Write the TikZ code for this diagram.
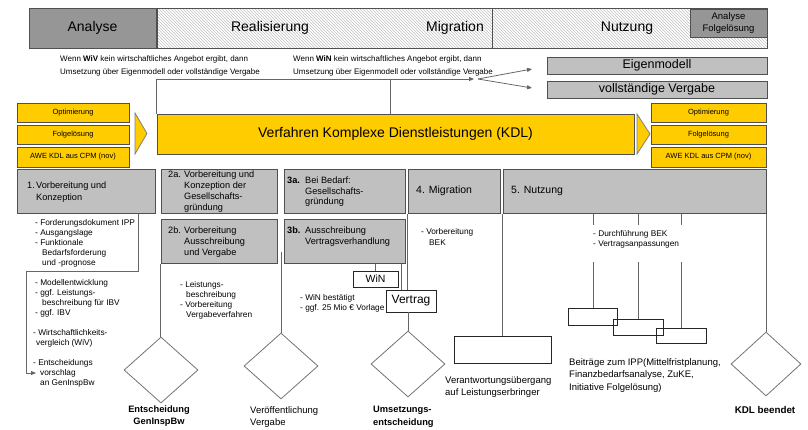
\documentclass[tikz,border=0pt]{standalone}
\usepackage{fontspec}
\setmainfont{Liberation Sans}
\usetikzlibrary{shapes.geometric,arrows.meta,patterns,calc}
\definecolor{kyel}{HTML}{FFCC00}
\definecolor{kgray}{HTML}{C0C0C0}
\definecolor{kdark}{HTML}{969696}
\definecolor{kline}{HTML}{505050}
\newcommand\myfs[2]{\fontsize{#1}{#2}\selectfont}
\begin{document}
\begin{tikzpicture}[x=1pt,y=-1pt,
  hdrbox/.style={draw=kline,line width=1pt,inner sep=0pt},
  ybox/.style={draw=kline,fill=kyel,line width=1pt,inner sep=0pt,font=\myfs{7.5}{9}},
  gbox/.style={draw=kline,fill=kgray,line width=1pt,inner sep=0pt},
  txt/.style={inner sep=0pt,anchor=north west,align=left},
  conn/.style={draw=black!60,line width=0.8pt},
  tip/.style={-{Triangle[length=5pt,width=4pt]}},
  dia/.style={diamond,draw=black!55,line width=0.8pt,inner sep=0pt,minimum width=74pt,minimum height=66pt},
  wbox/.style={draw=black!85,line width=0.8pt,inner sep=0pt},
  bfs/.style={font=\myfs{9.2}{11}},
  sfs/.style={font=\myfs{8.3}{10}},
  lfs/.style={font=\myfs{9.5}{12.5}},
]
\useasboundingbox (0,0) rectangle (808,429);

% header
\node[hdrbox,fill=kdark,minimum width=127pt,minimum height=40pt,font=\myfs{14}{16}] (ana) at (92.5,28) {Analyse};
\node[hdrbox,pattern=north west lines,pattern color=black!25,minimum width=335pt,minimum height=40pt] (real) at (324.5,28) {};
\node[hdrbox,pattern=north west lines,pattern color=black!25,minimum width=275pt,minimum height=40pt] (nutz) at (629.5,28) {};
\node[font=\myfs{14}{16},inner sep=0pt] (treal) at (270,28) {Realisierung};
\node[font=\myfs{14}{16},inner sep=0pt] (tmig) at (455,28) {Migration};
\node[font=\myfs{14}{16},inner sep=0pt] (tnut) at (627,28) {Nutzung};
\node[hdrbox,fill=kdark,minimum width=77pt,minimum height=28pt,align=center,font=\myfs{9.5}{12.5}] (anaf) at (728.5,23) {Analyse\\Folgelösung};

% Wenn texts
\node[txt,font=\myfs{8}{12.5}] (w1) at (60,55.5) {Wenn \textbf{WiV} kein wirtschaftliches Angebot ergibt, dann\\Umsetzung über Eigenmodell oder vollständige Vergabe};
\node[txt,font=\myfs{8}{12.5}] (w2) at (293,55.5) {Wenn \textbf{WiN} kein wirtschaftliches Angebot ergibt, dann\\Umsetzung über Eigenmodell oder vollständige Vergabe};

% Eigenmodell / Vergabe
\node[gbox,minimum width=220pt,minimum height=17pt,font=\myfs{12.5}{14}] (eig) at (657,65.5) {Eigenmodell};
\node[gbox,minimum width=220pt,minimum height=17pt,font=\myfs{12.5}{14}] (vol) at (657,89.5) {vollständige Vergabe};

% yellow boxes
\node[ybox,minimum width=112pt,minimum height=19pt] (lopt) at (73,112.5) {Optimierung};
\node[ybox,minimum width=112pt,minimum height=19pt] (lfol) at (73,134.5) {Folgelösung};
\node[ybox,minimum width=112pt,minimum height=20pt] (lawe) at (73,157) {AWE KDL aus CPM (nov)};
\node[ybox,minimum width=115pt,minimum height=19pt] (ropt) at (708.5,112.5) {Optimierung};
\node[ybox,minimum width=115pt,minimum height=19pt] (rfol) at (708.5,134.5) {Folgelösung};
\node[ybox,minimum width=115pt,minimum height=20pt] (rawe) at (708.5,157) {AWE KDL aus CPM (nov)};

\draw[draw=black!50,fill=kyel,line width=0.8pt] (135,113) -- (147,133.5) -- (135,154) -- cycle;
\draw[draw=black!50,fill=kyel,line width=0.8pt] (637,114) -- (650,134) -- (637,154) -- cycle;

\node[draw=kline,fill=kyel,line width=1pt,minimum width=477pt,minimum height=40pt,font=\myfs{14}{16}] (kdl) at (395.5,134) {Verfahren Komplexe Dienstleistungen (KDL)};

% gray boxes
\node[gbox,minimum width=138pt,minimum height=44pt] (b1) at (86,191) {};
\node[gbox,minimum width=116pt,minimum height=44pt] (b2a) at (219,191) {};
\node[gbox,minimum width=121pt,minimum height=44pt] (b3a) at (344.5,191) {};
\node[gbox,minimum width=92pt,minimum height=44pt] (b4) at (454,191) {};
\node[gbox,minimum width=263pt,minimum height=44pt] (b5) at (634.5,191) {};
\node[gbox,minimum width=116pt,minimum height=44pt] (b2b) at (219,241) {};
\node[gbox,minimum width=121pt,minimum height=44pt] (b3b) at (344.5,241) {};

\node[txt,font=\myfs{9.2}{11.5}] (tb1) at (27,182) {\makebox[9pt][l]{1.}Vorbereitung und\\\hspace*{9pt}Konzeption};
\node[txt,bfs] (tb2a) at (168,171) {\makebox[16pt][l]{2a.}Vorbereitung und\\\hspace*{16pt}Konzeption der\\\hspace*{16pt}Gesellschafts-\\\hspace*{16pt}gründung};
\node[txt,font=\myfs{9.2}{10.5}] (tb3a) at (287,177) {\makebox[18pt][l]{\textbf{3a.}}Bei Bedarf:\\\hspace*{18pt}Gesellschafts-\\\hspace*{18pt}gründung};
\node[anchor=west,inner sep=0pt,font=\myfs{10.5}{12}] (tb4) at (416,191) {4. Migration};
\node[anchor=west,inner sep=0pt,font=\myfs{10.5}{12}] (tb5) at (511,191) {5. Nutzung};
\node[txt,bfs] (tb2b) at (168,227) {\makebox[16pt][l]{2b.}Vorbereitung\\\hspace*{16pt}Ausschreibung\\\hspace*{16pt}und Vergabe};
\node[txt,bfs] (tb3b) at (287,227) {\makebox[18pt][l]{\textbf{3b.}}Ausschreibung\\\hspace*{18pt}Vertragsverhandlung};

% small texts
\node[txt,sfs] (t1) at (35,219.4) {- Forderungsdokument IPP\\- Ausgangslage\\- Funktionale\\\hspace*{7pt}Bedarfsforderung\\\hspace*{7pt}und -prognose};
\node[txt,sfs] (t2a) at (35,279.4) {- Modellentwicklung\\- ggf. Leistungs-\\\hspace*{7pt}beschreibung für IBV\\- ggf. IBV};
\node[txt,sfs] (t2b) at (33,329.4) {- Wirtschaftlichkeits-\\\hspace*{3pt}vergleich (WiV)};
\node[txt,sfs] (t2c) at (33,359.4) {- Entscheidungs\\\hspace*{7pt}vorschlag\\\hspace*{7pt}an GenInspBw};
\node[txt,sfs] (tleis) at (180,281.4) {- Leistungs-\\\hspace*{6pt}beschreibung\\- Vorbereitung\\\hspace*{6pt}Vergabeverfahren};
\node[txt,sfs] (twin) at (300,294.4) {- WiN bestätigt\\- ggf. 25 Mio € Vorlage};
\node[txt,font=\myfs{8.3}{11}] (tvorb) at (421,228.4) {- Vorbereitung\\\hspace*{8pt}BEK};
\node[txt,font=\myfs{8.3}{9.5}] (tdurch) at (593,230.4) {- Durchführung BEK\\- Vertragsanpassungen};

% small white boxes
\node[wbox,minimum width=45pt,minimum height=16pt,font=\myfs{10.5}{12}] (win) at (375.5,279) {WiN};
\node[wbox,minimum width=50pt,minimum height=22pt,font=\myfs{12}{14}] (vtr) at (411,301) {Vertrag};
\node[wbox,minimum width=97pt,minimum height=27pt] (vb) at (503,349.5) {};
\node[wbox,minimum width=49pt,minimum height=17pt] (sA) at (593,317) {};
\node[wbox,minimum width=50pt,minimum height=16pt] (sB) at (638,327) {};
\node[wbox,minimum width=50pt,minimum height=15pt] (sC) at (681,335.5) {};

% diamonds
\node[dia] (d1) at (161,370) {};
\node[dia] (d2) at (281,366) {};
\node[dia] (d3) at (408,364) {};
\node[dia,minimum width=70pt,minimum height=64pt] (d4) at (766,364) {};

% labels
\node[inner sep=0pt,anchor=north,align=center,font=\bfseries\myfs{9.3}{12}] (l1) at (159,406) {Entscheidung\\GenInspBw};
\node[txt,lfs] (l2) at (250,406) {Veröffentlichung\\Vergabe};
\node[txt,font=\bfseries\myfs{9.3}{12.5}] (l3) at (373,406) {Umsetzungs-\\entscheidung};
\node[txt,lfs] (l4) at (445,376) {Verantwortungsübergang\\auf Leistungserbringer};
\node[txt,lfs] (l5) at (569,358) {Beiträge zum IPP(Mittelfristplanung,\\Finanzbedarfsanalyse, ZuKE,\\Initiative Folgelösung)};
\node[inner sep=0pt,anchor=north,font=\bfseries\myfs{9.8}{12}] (l6) at (765,406) {KDL beendet};

% connectors top
\coordinate (fk) at (474,79);
\coordinate (fk2) at (478,79);
\coordinate (m1) at (390,79);
\coordinate (e1) at (532,69);
\coordinate (e2) at (532,88);
\draw[conn,tip] (kdl.north west) |- (fk);
\draw[conn] (m1) -- (m1 |- kdl.north);
\draw[conn,tip] (fk2) -- (e1);
\draw[conn,tip] (fk2) -- (e2);

% connectors lower
\coordinate (c1) at (138,271);
\coordinate (c2) at (26,271);
\coordinate (c3) at (36,373);
\draw[conn,tip] (b1.south -| c1) -- (c1) -- (c2) |- (c3);
\draw[conn] (b2b.south west) -- (b2b.south west |- d1.north);
\coordinate (c4) at (281,252);
\draw[conn] (c4) -- (d2.north);
\draw[conn] (win.north |- b3b.south) -- (win.north);
\coordinate (c5) at (401,290);
\draw[conn] (c5 |- b3b.south) -- (c5);
\draw[conn] (b4.south west) -- (b4.south west |- vtr.north);
\draw[conn] (vtr.south -| d3.north) -- (d3.north);
\draw[conn] (b5.south west) -- (b5.south west |- vb.north);
\draw[conn] (b5.south east) -- (b5.south east |- d4.north);
\coordinate (g1) at (0,225);
\coordinate (g2) at (0,262);
\foreach \s in {sA,sB,sC}{
  \draw[conn] (\s.north |- b5.south) -- (\s.north |- g1);
  \draw[conn] (\s.north |- g2) -- (\s.north);
}
\end{tikzpicture}
\end{document}
